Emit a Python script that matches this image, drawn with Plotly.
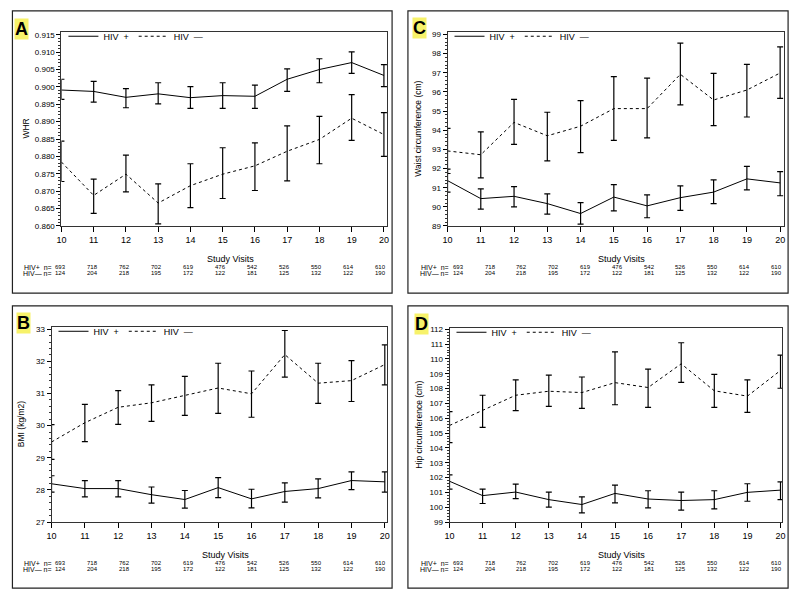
import plotly.graph_objects as go

visits = [10, 11, 12, 13, 14, 15, 16, 17, 18, 19, 20]
n_pos = ["693", "718", "762", "702", "619", "476", "542", "526", "550", "614", "610"]
n_neg = ["124", "204", "218", "195", "172", "122", "181", "125", "132", "122", "190"]

# Panel A: WHR
whr_pos = [0.8991, 0.8987, 0.8970, 0.8980, 0.8969, 0.8975, 0.8973, 0.9022, 0.9050, 0.9070, 0.9033]
whr_pos_hi = [0.9022, 0.9016, 0.8995, 0.9012, 0.9001, 0.9012, 0.9005, 0.9052, 0.9081, 0.9101, 0.9064]
whr_pos_lo = [0.8964, 0.8956, 0.8940, 0.8951, 0.8938, 0.8938, 0.8938, 0.8987, 0.9012, 0.9039, 0.9001]
whr_neg = [0.8784, 0.8688, 0.8749, 0.8666, 0.8716, 0.8749, 0.8773, 0.8815, 0.8849, 0.8910, 0.8863]
whr_neg_hi = [0.8844, 0.8735, 0.8804, 0.8721, 0.8779, 0.8825, 0.8839, 0.8888, 0.8915, 0.8978, 0.8926]
whr_neg_lo = [0.8728, 0.8636, 0.8698, 0.8606, 0.8653, 0.8679, 0.8702, 0.8730, 0.8779, 0.8846, 0.8800]

# Panel B: BMI
bmi_pos = [28.19, 28.04, 28.04, 27.85, 27.70, 28.07, 27.72, 27.95, 28.04, 28.29, 28.25]
bmi_pos_hi = [28.44, 28.29, 28.29, 28.09, 27.98, 28.38, 28.02, 28.22, 28.34, 28.56, 28.56]
bmi_pos_lo = [27.93, 27.78, 27.78, 27.59, 27.43, 27.76, 27.44, 27.62, 27.75, 28.01, 27.93]
bmi_neg = [29.49, 30.09, 30.57, 30.71, 30.94, 31.17, 30.99, 32.21, 31.32, 31.40, 31.90]
bmi_neg_hi = [30.03, 30.66, 31.09, 31.27, 31.53, 31.94, 31.70, 32.96, 31.94, 32.02, 32.51]
bmi_neg_lo = [28.95, 29.50, 30.04, 30.13, 30.32, 30.38, 30.26, 31.51, 30.69, 30.75, 31.27]

# Panel C: Waist circumference
waist_pos = [91.37, 90.43, 90.55, 90.17, 89.65, 90.51, 90.05, 90.48, 90.77, 91.46, 91.25]
waist_pos_hi = [91.97, 90.94, 91.06, 90.68, 90.22, 91.16, 90.63, 91.10, 91.41, 92.11, 91.84]
waist_pos_lo = [90.77, 89.88, 90.00, 89.62, 89.10, 89.79, 89.43, 89.82, 90.17, 90.89, 90.58]
waist_neg = [92.92, 92.72, 94.41, 93.71, 94.21, 95.13, 95.13, 96.92, 95.58, 96.10, 96.99]
waist_neg_hi = [94.10, 93.91, 95.61, 94.94, 95.55, 96.80, 96.72, 98.55, 96.97, 97.44, 98.35]
waist_neg_lo = [91.74, 91.51, 93.26, 92.40, 92.83, 93.47, 93.60, 95.32, 94.24, 94.69, 95.66]

# Panel D: Hip circumference
hip_pos = [101.75, 100.78, 101.02, 100.51, 100.18, 100.93, 100.55, 100.45, 100.51, 101.00, 101.15]
hip_pos_hi = [102.18, 101.22, 101.55, 101.02, 100.69, 101.49, 101.11, 101.02, 101.11, 101.58, 101.71]
hip_pos_lo = [101.22, 100.25, 100.58, 100.00, 99.62, 100.29, 99.96, 99.80, 99.89, 100.40, 100.51]
hip_neg = [105.51, 106.51, 107.55, 107.82, 107.73, 108.40, 108.07, 109.67, 107.85, 107.49, 109.22]
hip_neg_hi = [106.45, 107.55, 108.58, 108.91, 108.78, 110.47, 109.31, 111.09, 108.96, 108.58, 110.25]
hip_neg_lo = [104.35, 105.38, 106.51, 106.80, 106.67, 106.91, 106.73, 108.42, 106.73, 106.40, 108.02]

W, H = 800, 602
FONT = "Liberation Sans, Arial, sans-serif"


def px(x):
    return x / W


def py(y):
    return 1 - y / H


panels = [
    dict(key="A", ax="", legend="legend", title="WHR",
         pos=(whr_pos, whr_pos_hi, whr_pos_lo), neg=(whr_neg, whr_neg_hi, whr_neg_lo),
         frame=(57, 386, 29, 226), xr=[10, 20.1], yr=[0.860, 0.9159], dtick=0.005, fmt=".3f",
         box=(7.5, 391, 8, 294), lab=(9, 15), ttl_x=21, nx=(56, 32.3)),
    dict(key="C", ax="2", legend="legend2", title="Waist circumference (cm)",
         pos=(waist_pos, waist_pos_hi, waist_pos_lo), neg=(waist_neg, waist_neg_hi, waist_neg_lo),
         frame=(447, 787, 29, 226), xr=[10, 20.12], yr=[89, 99.15], dtick=1, fmt="d",
         box=(407, 791, 8, 294), lab=(411, 14), ttl_x=417, nx=(458, 32.1)),
    dict(key="B", ax="3", legend="legend3", title="BMI (kg/m2)",
         pos=(bmi_pos, bmi_pos_hi, bmi_pos_lo), neg=(bmi_neg, bmi_neg_hi, bmi_neg_lo),
         frame=(47, 386, 328, 526), xr=[10, 20.07], yr=[27, 33.08], dtick=1, fmt="d",
         box=(7.5, 391, 307, 593), lab=(11, 313), ttl_x=16, nx=(56, 32.3)),
    dict(key="D", ax="4", legend="legend4", title="Hip circumference (cm)",
         pos=(hip_pos, hip_pos_hi, hip_pos_lo), neg=(hip_neg, hip_neg_hi, hip_neg_lo),
         frame=(449, 785, 329, 526), xr=[10, 20.05], yr=[99, 112.11], dtick=1, fmt="d",
         box=(407, 791, 307, 593), lab=(413, 314), ttl_x=418, nx=(458, 32.1)),
]

fig = go.Figure()
annotations = []
shapes = []
layout = {}

for p in panels:
    xa = "x" + p["ax"]
    ya = "y" + p["ax"]
    for name, (m, hi, lo), dash in [("HIV  +", p["pos"], "solid"), ("HIV  \u2014", p["neg"], "dot")]:
        fig.add_trace(go.Scatter(
            x=visits, y=m, mode="lines", name=name,
            line=dict(color="black", width=1, dash=dash),
            error_y=dict(type="data", symmetric=False,
                         array=[h - v for h, v in zip(hi, m)],
                         arrayminus=[v - l for v, l in zip(m, lo)],
                         color="black", thickness=1.2, width=3),
            xaxis=xa, yaxis=ya, legend=p["legend"], cliponaxis=False,
        ))
    x0, x1, y0, y1 = p["frame"]
    xkey = "xaxis" + p["ax"]
    ykey = "yaxis" + p["ax"]
    layout[xkey] = dict(
        domain=[px(x0), px(x1)], range=p["xr"], anchor=ya,
        tickmode="array", tickvals=visits, ticks="outside", ticklen=5, tickcolor="black",
        showline=True, linecolor="#333", linewidth=1, mirror=True, showgrid=False, zeroline=False,
        tickfont=dict(family=FONT, size=9, color="black"),
    )
    layout[ykey] = dict(
        domain=[py(y1), py(y0)], range=p["yr"], anchor=xa,
        dtick=p["dtick"], tickformat=p["fmt"], ticks="outside", ticklen=4, tickcolor="black",
        showline=True, linecolor="#333", linewidth=1, mirror=True, showgrid=False, zeroline=False,
        tickfont=dict(family=FONT, size=8, color="black"),
        minor=dict(ticks="outside", ticklen=2, nticks=5, tickcolor="#333", showgrid=False),
    )
    layout[p["legend"]] = dict(
        x=px(x0 + 2), y=py(y0 - 10), xanchor="left", yanchor="top", orientation="h",
        bgcolor="rgba(0,0,0,0)", font=dict(family=FONT, size=9, color="black"),
        tracegroupgap=0, itemwidth=30,
    )
    # panel border
    bx0, bx1, by0, by1 = p["box"]
    shapes.append(dict(type="rect", xref="paper", yref="paper",
                       x0=px(bx0), x1=px(bx1), y0=py(by1), y1=py(by0),
                       line=dict(color="#222", width=1.2)))
    # panel letter
    lx, ly = p["lab"]
    annotations.append(dict(text="<b>" + p["key"] + "</b>", xref="paper", yref="paper",
                            x=px(lx), y=py(ly), xanchor="left", yanchor="top", showarrow=False,
                            font=dict(family=FONT, size=18, color="black"),
                            bgcolor="#f7f26a", borderpad=0))
    # y title
    annotations.append(dict(text=p["title"], xref="paper", yref="paper",
                            x=px(p["ttl_x"]), y=py((y0 + y1) / 2), textangle=-90,
                            xanchor="center", yanchor="middle", showarrow=False,
                            font=dict(family=FONT, size=8.5, color="black")))
    # x title
    annotations.append(dict(text="Study Visits", xref="paper", yref="paper",
                            x=px((x0 + x1) / 2 + 6), y=py(y1 + 33), xanchor="center", yanchor="middle",
                            showarrow=False, font=dict(family=FONT, size=9, color="black")))
    # n rows
    nx0, ndx = p["nx"]
    for row, (lbl, vals) in enumerate([("HIV+  n=", n_pos), ("HIV\u2014 n=", n_neg)]):
        yy = py(y1 + 42 + row * 6)
        annotations.append(dict(text=lbl, xref="paper", yref="paper", x=px(nx0 - 7), y=yy,
                                xanchor="right", yanchor="middle", showarrow=False,
                                font=dict(family=FONT, size=7, color="black")))
        for i, n in enumerate(vals):
            annotations.append(dict(text=n, xref="paper", yref="paper", x=px(nx0 + i * ndx), y=yy,
                                    xanchor="center", yanchor="middle", showarrow=False,
                                    font=dict(family=FONT, size=6, color="black")))

fig.update_layout(
    width=W, height=H, margin=dict(l=0, r=0, t=0, b=0),
    paper_bgcolor="white", plot_bgcolor="white",
    annotations=annotations, shapes=shapes, **layout,
)
fig.write_html("out.html", config={"displayModeBar": False},
               post_script="document.body.style.margin='0';document.body.style.overflow='hidden';")
